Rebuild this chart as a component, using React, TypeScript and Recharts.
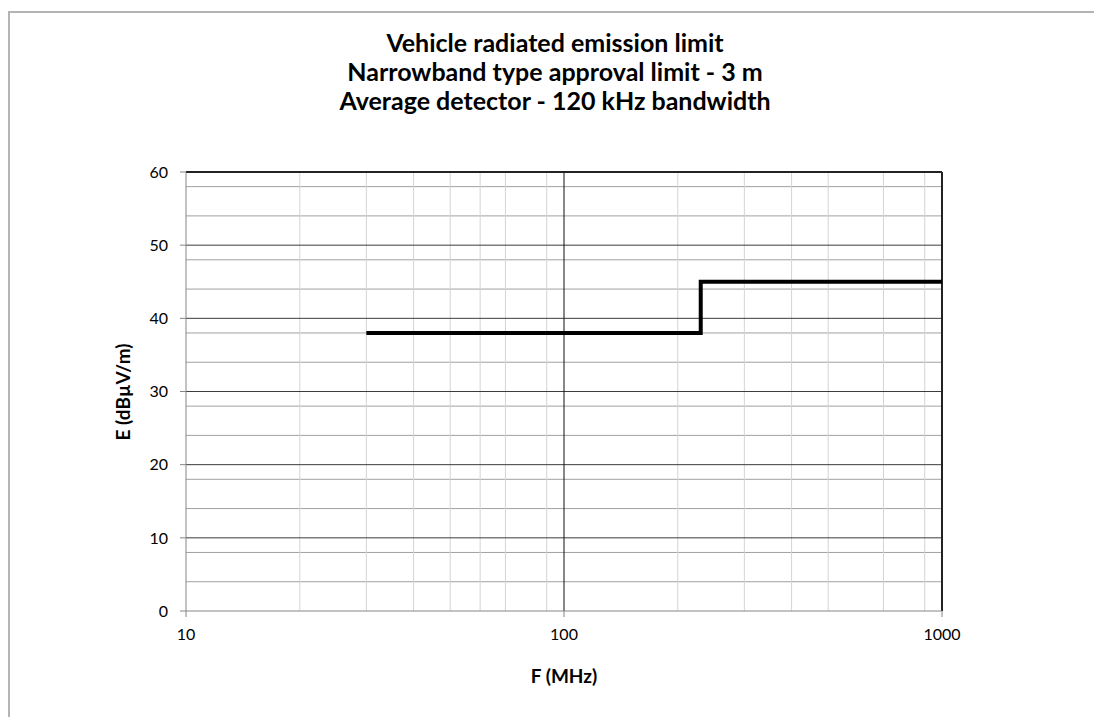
import { LineChart, Line, XAxis, YAxis, CartesianGrid } from "recharts";

// limit breakpoints (MHz) and levels (dBµV/m), drawn as a step
const freqs = [30, 230, 1000];
const levels = [38, 45, 45];

const xTicks = [10, 100, 1000];
const yTicks = [0, 10, 20, 30, 40, 50, 60];
const yMinor = [2, 4, 6, 8, 12, 14, 16, 18, 22, 24, 26, 28, 32, 34, 36, 38, 42, 44, 46, 48, 52, 54, 56, 58];
const xMinor = [20, 30, 40, 50, 60, 70, 80, 90, 200, 300, 400, 500, 600, 700, 800, 900];

const data = freqs.map((f, i) => ({ f, e: levels[i] }));

const font = "Lato, 'Open Sans', sans-serif";
const tickStyle = { fill: "#000", fontSize: 16, fontFamily: font };

export default function App() {
  return (
    <div style={{ position: "fixed", left: 0, top: 0, width: 1094, height: 717, overflow: "hidden", background: "#fff" }}>
      <div
        style={{
          position: "absolute",
          left: 8,
          top: 11,
          width: 1084,
          height: 720,
          borderTop: "2px solid #b4b4b4",
          borderLeft: "2px solid #b4b4b4",
        }}
      />
      <div style={{ position: "absolute", left: 0, top: 0 }}>
        <LineChart width={1094} height={717} data={data} margin={{ top: 172, right: 152, bottom: 76, left: 126 }}>
          <CartesianGrid horizontal={true} vertical={false} horizontalValues={yMinor} stroke="#a0a0a0" />
          <CartesianGrid horizontal={false} vertical={true} verticalValues={xMinor} stroke="#d4d4d4" />
          <CartesianGrid horizontal={true} vertical={false} horizontalValues={[10, 20, 30, 40, 50]} stroke="#3c3c3c" />
          <CartesianGrid horizontal={false} vertical={true} verticalValues={[100]} stroke="#111" />
          <CartesianGrid horizontal={true} vertical={false} horizontalValues={[60]} stroke="#222" strokeWidth={2} />
          <CartesianGrid horizontal={false} vertical={true} verticalValues={[1000]} stroke="#222" strokeWidth={2} />
          <XAxis
            dataKey="f"
            type="number"
            scale="log"
            domain={[10, 1000]}
            ticks={xTicks}
            allowDataOverflow
            tick={tickStyle}
            tickSize={6}
            tickMargin={12}
            stroke="#868686"
            height={30}
          />
          <YAxis
            type="number"
            domain={[0, 60]}
            ticks={yTicks}
            tick={tickStyle}
            tickSize={6}
            tickMargin={12}
            stroke="#868686"
            width={60}
          />
          <Line
            type="stepAfter"
            dataKey="e"
            stroke="#000"
            strokeWidth={4}
            dot={false}
            isAnimationActive={false}
          />
        </LineChart>
      </div>
      <div
        style={{
          position: "absolute",
          left: 0,
          width: 1110,
          top: 28,
          textAlign: "center",
          fontFamily: font,
          fontWeight: 700,
          fontSize: 25,
          lineHeight: "29px",
          color: "#000",
        }}
      >
        <div>Vehicle radiated emission limit</div>
        <div>Narrowband type approval limit - 3 m</div>
        <div>Average detector - 120 kHz bandwidth</div>
      </div>
      <div
        style={{
          position: "absolute",
          left: 122,
          top: 392,
          transform: "translate(-50%, -50%) rotate(-90deg)",
          whiteSpace: "nowrap",
          fontFamily: font,
          fontWeight: 700,
          fontSize: 19,
          color: "#000",
        }}
      >
        E (dBµV/m)
      </div>
      <div
        style={{
          position: "absolute",
          left: 564,
          top: 675,
          transform: "translate(-50%, -50%)",
          whiteSpace: "nowrap",
          fontFamily: font,
          fontWeight: 700,
          fontSize: 19,
          color: "#000",
        }}
      >
        F (MHz)
      </div>
    </div>
  );
}
